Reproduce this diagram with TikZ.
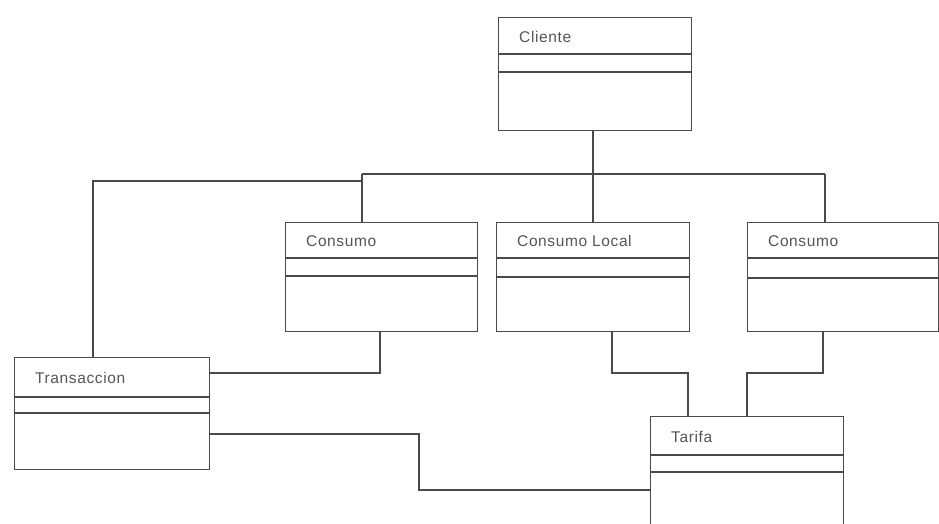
\documentclass[tikz,border=0pt]{standalone}
\usepackage{fontspec}
\setmainfont{Liberation Sans}
\newfontfamily\umlfont[LetterSpace=4]{Liberation Sans}
\definecolor{linec}{HTML}{4A4A4A}
\definecolor{textc}{HTML}{555555}
\tikzset{
  cls/.style={draw=linec, line width=1.3pt, rectangle, anchor=north west, inner sep=0pt, fill=white},
  lbl/.style={anchor=west, text=textc, font=\umlfont\fontsize{15.5}{18}\selectfont, inner sep=0pt},
  sepline/.style={draw=linec, line width=1.3pt},
  link/.style={draw=linec, line width=1.3pt},
}
% name, x, y, w, h, sep1, sep2, label
\newcommand\umlbox[8]{%
  \node[cls, minimum width=#4pt, minimum height=#5pt] (#1) at (#2,#3) {};
  \draw[sepline] (#2,#6) -- ({#2+#4},#6);
  \draw[sepline] (#2,#7) -- ({#2+#4},#7);
  \pgfmathsetmacro\umly{(#3+#6)/2+1}
  \node[lbl] (#1-t) at ({#2+21},\umly) {#8};
}
\begin{document}
\begin{tikzpicture}[x=1pt,y=-1pt]
  \clip (0,0) rectangle (939,524);
  \fill[white] (0,0) rectangle (939,524);
  \coordinate (hubL) at (362,174);
  \coordinate (hubR) at (825,174);
  \umlbox{cliente}{498}{17}{193}{113}{54}{72}{Cliente}
  \umlbox{cons1}{285}{222}{192}{109}{258}{276}{Consumo}
  \umlbox{consL}{496}{222}{193}{109}{258}{277}{Consumo Local}
  \umlbox{cons3}{747}{222}{191}{109}{258}{278}{Consumo}
  \umlbox{trans}{14}{357}{195}{112}{397}{413}{Transaccion}
  \umlbox{tarifa}{650}{416}{193}{130}{455}{472}{Tarifa}
  % Cliente to the three consumo boxes
  \draw[link] (cliente.south -| 593,0) -- (593,0 |- hubL);
  \draw[link] (hubL) -- (hubR);
  \draw[link] (hubL) -- (hubL |- cons1.north);
  \draw[link] (593,0 |- hubL) -- (593,0 |- consL.north);
  \draw[link] (hubR) -- (hubR |- cons3.north);
  % Transaccion up to the hub
  \draw[link] (trans.north -| 93,0) |- (362,181);
  % Consumo to Transaccion
  \draw[link] (cons1.south -| 380,0) -- (380,373) -- (trans.east |- 0,373);
  % Transaccion to Tarifa
  \draw[link] (trans.east |- 0,434) -- (419,434) -- (419,490) -- (tarifa.west |- 0,490);
  % Consumo Local to Tarifa
  \draw[link] (consL.south -| 612,0) -- (612,373) -- (688,373) -- (tarifa.north -| 688,0);
  % Consumo to Tarifa
  \draw[link] (cons3.south -| 823,0) -- (823,373) -- (747,373) -- (tarifa.north -| 747,0);
\end{tikzpicture}
\end{document}
